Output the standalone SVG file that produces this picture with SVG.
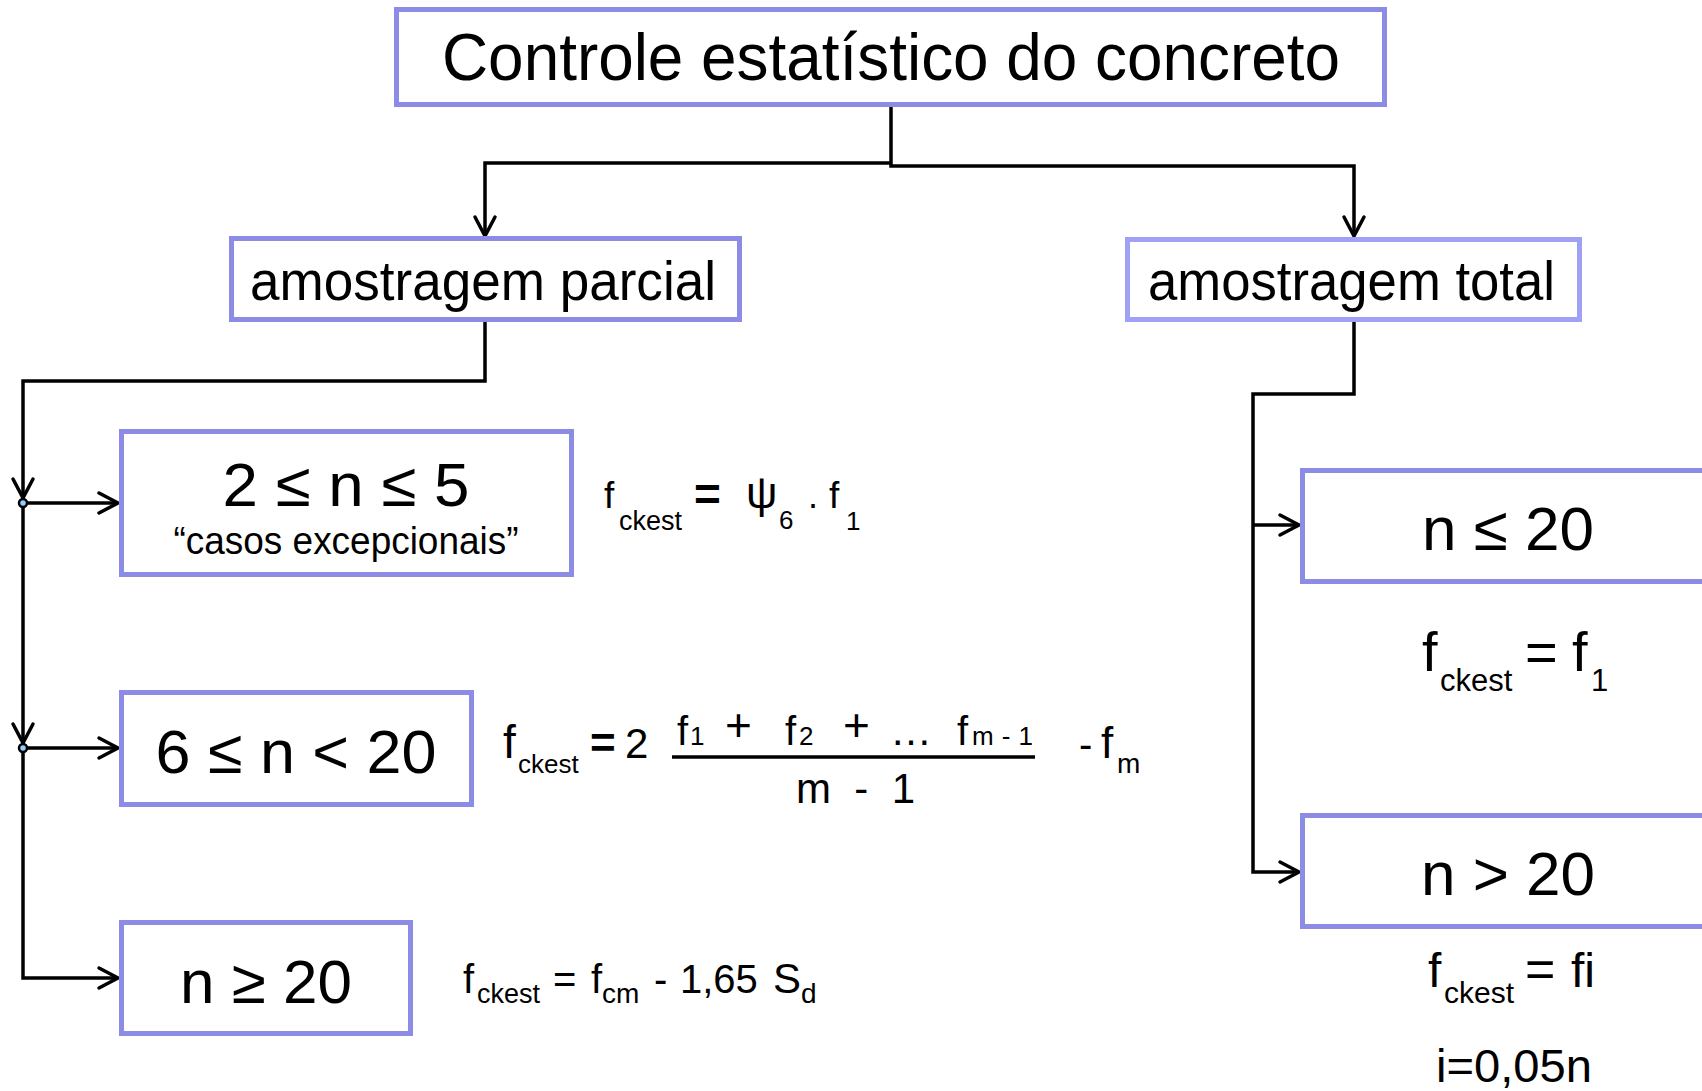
<svg xmlns="http://www.w3.org/2000/svg" width="1702" height="1091" viewBox="0 0 1702 1091">
<style>
.box{fill:#fff;stroke:#8c8ce6;stroke-width:5}
.box2{fill:#fff;stroke:#a0a0f6;stroke-width:5}
.t{font-family:"Liberation Sans",Arial,sans-serif;fill:#000}
.c{stroke:#000;stroke-width:3.5;fill:none}
.dot{fill:#8ecfff;stroke:#000;stroke-width:2.5}
</style>
<defs>
<marker id="arr" viewBox="-22 -13 26 26" refX="0" refY="0" markerWidth="26" markerHeight="26" orient="auto" markerUnits="userSpaceOnUse">
<path d="M-19,-10 L0,0 L-19,10" fill="none" stroke="#000" stroke-width="3.5" stroke-linecap="round"/>
</marker>
</defs>
<rect width="1702" height="1091" fill="#fff"/>

<g id="connectors">
<path class="c" d="M891,107 V166 H1354 V236" marker-end="url(#arr)"/>
<path class="c" d="M891,163 H485 V236" marker-end="url(#arr)"/>
<path class="c" d="M485,322 V381 H23 V498" marker-end="url(#arr)"/>
<path class="c" d="M23,503 V743" marker-end="url(#arr)"/>
<path class="c" d="M23,748 V978 H118" marker-end="url(#arr)"/>
<path class="c" d="M23,503 H118" marker-end="url(#arr)"/>
<path class="c" d="M23,748 H118" marker-end="url(#arr)"/>
<circle class="dot" cx="23" cy="503" r="4"/>
<circle class="dot" cx="23" cy="748" r="4"/>
<path class="c" d="M1354,322 V394 H1253 V872 H1299" marker-end="url(#arr)"/>
<path class="c" d="M1253,525 H1299" marker-end="url(#arr)"/>
</g>

<g id="title">
<rect class="box" x="396.5" y="9.5" width="988" height="95"/>
<text class="t" x="442" y="80" font-size="67" textLength="898" lengthAdjust="spacingAndGlyphs">Controle estatístico do concreto</text>
</g>

<g id="parcial">
<rect class="box" x="231.5" y="238.5" width="508" height="81"/>
<text class="t" x="250" y="300" font-size="56" textLength="466" lengthAdjust="spacingAndGlyphs">amostragem parcial</text>
</g>

<g id="total">
<rect class="box2" x="1127.5" y="239.5" width="452" height="80"/>
<text class="t" x="1148" y="300" font-size="56" textLength="407" lengthAdjust="spacingAndGlyphs">amostragem total</text>
</g>

<g id="n2a5">
<rect class="box" x="121.5" y="431.5" width="450" height="143"/>
<text class="t" x="346" y="506" font-size="62" text-anchor="middle" textLength="247" lengthAdjust="spacingAndGlyphs">2 ≤ n ≤ 5</text>
<text class="t" x="346" y="554" font-size="38" text-anchor="middle" textLength="345" lengthAdjust="spacingAndGlyphs">“casos excepcionais”</text>
</g>

<g id="formula1">
<text class="t" x="604" y="508" font-size="37">f</text>
<text class="t" x="619" y="530" font-size="27">ckest</text>
<text class="t" x="694" y="510" font-size="46" font-weight="bold">=</text>
<text class="t" x="746" y="508" font-size="44">ψ</text>
<text class="t" x="779" y="529" font-size="26">6</text>
<text class="t" x="808" y="508" font-size="36">.</text>
<text class="t" x="829" y="508" font-size="37">f</text>
<text class="t" x="846" y="530" font-size="26">1</text>
</g>

<g id="n6a20">
<rect class="box" x="121.5" y="692.5" width="350" height="112"/>
<text class="t" x="296" y="773" font-size="62" text-anchor="middle" textLength="281" lengthAdjust="spacingAndGlyphs">6 ≤ n &lt; 20</text>
</g>

<g id="formula2">
<text class="t" x="503" y="758" font-size="46">f</text>
<text class="t" x="518" y="773" font-size="26">ckest</text>
<text class="t" x="590" y="758" font-size="44" font-weight="bold">=</text>
<text class="t" x="625" y="758" font-size="42">2</text>
<line x1="672" y1="757" x2="1035" y2="757" stroke="#000" stroke-width="3.5"/>
<text class="t" x="677" y="745" font-size="40">f</text>
<text class="t" x="690" y="745" font-size="26">1</text>
<text class="t" x="725" y="741" font-size="46">+</text>
<text class="t" x="785" y="745" font-size="40">f</text>
<text class="t" x="799" y="745" font-size="26">2</text>
<text class="t" x="843" y="741" font-size="46">+</text>
<text class="t" x="890" y="745" font-size="42">…</text>
<text class="t" x="957" y="745" font-size="40">f</text>
<text class="t" x="972" y="745" font-size="26" textLength="61" lengthAdjust="spacing">m - 1</text>
<text class="t" x="796" y="803" font-size="42" textLength="119" lengthAdjust="spacing">m - 1</text>
<text class="t" x="1079" y="758" font-size="40">-</text>
<text class="t" x="1101" y="758" font-size="44">f</text>
<text class="t" x="1117" y="773" font-size="28">m</text>
</g>

<g id="n20">
<rect class="box" x="121.5" y="922.5" width="289" height="111"/>
<text class="t" x="266" y="1003" font-size="62" text-anchor="middle">n ≥ 20</text>
</g>

<g id="formula3">
<text class="t" x="463" y="993" font-size="40">f</text>
<text class="t" x="477" y="1003" font-size="27">ckest</text>
<text class="t" x="553" y="993" font-size="40">=</text>
<text class="t" x="591" y="993" font-size="40">f</text>
<text class="t" x="602" y="1003" font-size="28">cm</text>
<text class="t" x="654" y="993" font-size="40">-</text>
<text class="t" x="680" y="993" font-size="40">1,65</text>
<text class="t" x="773" y="993" font-size="42">S</text>
<text class="t" x="801" y="1003" font-size="28">d</text>
</g>

<g id="nle20">
<rect class="box" x="1302.5" y="470.5" width="420" height="111"/>
<text class="t" x="1508" y="550" font-size="62" text-anchor="middle">n ≤ 20</text>
</g>

<g id="formula4">
<text class="t" x="1422" y="671" font-size="56">f</text>
<text class="t" x="1440" y="691" font-size="31">ckest</text>
<text class="t" x="1525" y="671" font-size="56">=</text>
<text class="t" x="1572" y="671" font-size="56">f</text>
<text class="t" x="1591" y="691" font-size="31">1</text>
</g>

<g id="ngt20">
<rect class="box" x="1302.5" y="815.5" width="420" height="111"/>
<text class="t" x="1508" y="895" font-size="62" text-anchor="middle">n &gt; 20</text>
</g>

<g id="formula5">
<text class="t" x="1428" y="987" font-size="48">f</text>
<text class="t" x="1444" y="1003" font-size="30">ckest</text>
<text class="t" x="1525" y="987" font-size="52">=</text>
<text class="t" x="1571" y="987" font-size="48">fi</text>
<text class="t" x="1436" y="1082" font-size="47" textLength="156" lengthAdjust="spacingAndGlyphs">i=0,05n</text>
</g>
</svg>
